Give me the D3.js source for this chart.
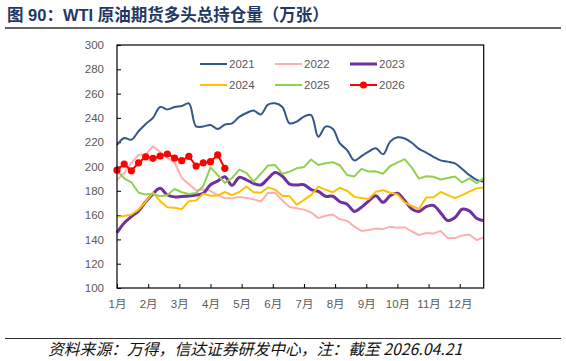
<!DOCTYPE html>
<html>
<head>
<meta charset="utf-8">
<script src="https://cdn.jsdelivr.net/npm/d3@7"></script>
<style>
  body { margin: 0; background: #fff; }
  svg { display: block; }
</style>
</head>
<body>
<div id="chart"></div>
<script>
const months = ["1月", "2月", "3月", "4月", "5月", "6月", "7月", "8月", "9月", "10月", "11月", "12月"];
const yTicks = [100, 120, 140, 160, 180, 200, 220, 240, 260, 280, 300];
const years = ["2021", "2022", "2023", "2024", "2025", "2026"];

// weekly values, week 0..51
const s2021 = [217.7, 223.5, 222, 229, 235, 240, 249, 247, 249, 249.8, 252, 233, 233, 234.2, 230.8, 234.5,
  235.5, 240.8, 244, 246, 242.8, 251, 252, 249, 235.5, 237, 241, 242.3, 224.5, 232.8, 231, 219,
  213.5, 205, 208.5, 212.3, 215, 210, 220.5, 224, 223, 219.5, 214.5, 211.5, 208, 205, 204, 202.5,
  198, 193, 189, 187.5];
const s2022 = [189, 194.5, 203, 209.5, 210, 216.5, 212, 207, 203.5, 190.5, 185.5, 180.5, 181, 180, 176.5, 173.8,
  173.8, 175, 174, 173, 171.2, 178.2, 178.4, 172, 166.7, 165.6, 164.5, 162.2, 157.5, 159.5, 160.5, 156.5,
  155.3, 150.5, 147, 147.8, 149, 148.5, 150.5, 149.6, 150, 146.5, 143.5, 145.3, 144.8, 147, 141.1, 141.1,
  143.3, 144, 139.5, 141.7];
const s2023 = [145.5, 153.5, 158.8, 163.5, 171, 177.5, 182, 176.5, 175, 175.3, 175.8, 176.6, 178, 185, 188, 191.5,
  184.5, 191, 189, 186, 184.8, 190, 195, 192, 185.5, 184.8, 185, 181, 179.5, 175.5, 175.5, 171,
  169, 163, 166.5, 171.5, 176, 170.5, 176, 178, 172, 165, 163, 167, 168, 162, 155.5, 158,
  164.8, 163.5, 157.5, 155.3];
const s2024 = [158.7, 159.3, 160.5, 164.5, 171, 178.5, 171.5, 166.4, 166, 164.8, 171.5, 172, 177.5, 176, 176.1, 179,
  176.5, 179, 183.5, 178.8, 178.4, 182.8, 181, 175.7, 175.7, 168.5, 172.5, 176.5, 183.4, 181, 178.8, 182.5,
  180, 175, 174, 173.2, 179.3, 180.5, 178.4, 177, 170.5, 167.5, 165, 174.5, 174.6, 179, 176.5, 174,
  176.5, 179.3, 182, 182.8];
const s2025 = [196.5, 190.3, 187, 178.4, 177, 177.5, 175.5, 176.5, 181.5, 178.8, 177.3, 178.2, 184, 199.3, 193, 186.5,
  190.5, 197.5, 194.8, 187.5, 194, 200.8, 201.2, 194, 195.8, 198.5, 199.5, 205.8, 201.2, 202.6, 203.5, 201,
  193, 191.8, 198, 195.8, 196, 194, 200.4, 203.2, 206, 199, 190, 192, 191.6, 189.3, 190.5, 191.8,
  186.9, 190.3, 186.2, 190.3];
const s2026 = [197, 202, 196.5, 203, 208, 206.7, 208.6, 210.3, 207, 204.8, 208.3, 200.4, 203, 204, 209.5, 198.5];

const series = [
  { name: years[0], values: s2021, color: "#34568b", width: 2, smooth: true },
  { name: years[1], values: s2022, color: "#ffafaf", width: 2, smooth: false },
  { name: years[2], values: s2023, color: "#7030a0", width: 3, smooth: true },
  { name: years[3], values: s2024, color: "#ffc000", width: 2, smooth: false },
  { name: years[4], values: s2025, color: "#92d050", width: 2, smooth: false },
  { name: years[5], values: s2026, color: "#ff0000", width: 2, smooth: false, dots: true }
];

const width = 566;
const height = 361;
const plotL = 117, plotR = 483.7, plotT = 45, plotB = 288;

const svg = d3.select("#chart")
  .append("svg")
  .attr("width", width)
  .attr("height", height);

svg.append("rect").attr("width", width).attr("height", height).attr("fill", "#fff");

// title
svg.append("text")
  .attr("x", 7)
  .attr("y", 21)
  .attr("fill", "#1f3864")
  .attr("font-family", "'Liberation Sans', 'Noto Sans CJK SC', sans-serif")
  .attr("font-weight", "bold")
  .attr("font-size", 16.5)
  .text("图 90：WTI 原油期货多头总持仓量（万张）");

svg.append("line")
  .attr("x1", 5).attr("x2", 561)
  .attr("y1", 28).attr("y2", 28)
  .attr("stroke", "#333").attr("stroke-width", 1.5);

const x = d3.scaleLinear().domain([0, 51]).range([plotL, plotR]);
const y = d3.scaleLinear().domain([100, 300]).range([plotB, plotT]);

const labelFont = "'Liberation Sans', 'Noto Sans CJK SC', sans-serif";

// y axis
const yAxis = svg.append("g")
  .attr("transform", `translate(${plotL},0)`)
  .call(d3.axisLeft(y).tickValues(yTicks).tickSize(-4).tickPadding(13));
yAxis.select(".domain").remove();
yAxis.selectAll("line").attr("stroke", "#000");
yAxis.selectAll("text")
  .attr("fill", "#595959")
  .attr("font-family", labelFont)
  .attr("font-size", 11.5);

// x axis (month ticks)
const monthPos = months.map((m, i) => i * 52 / 12);
const xAxis = svg.append("g")
  .attr("transform", `translate(0,${plotB})`)
  .call(d3.axisBottom(x).tickValues(monthPos).tickFormat((d, i) => months[i]).tickSize(-4).tickPadding(12));
xAxis.select(".domain").remove();
xAxis.selectAll("line").attr("stroke", "#000");
xAxis.selectAll("text")
  .attr("fill", "#595959")
  .attr("font-family", labelFont)
  .attr("font-size", 11.5);

// lines
series.forEach(s => {
  const line = d3.line()
    .x((d, i) => x(i))
    .y(d => y(d))
    .curve(s.smooth ? d3.curveCatmullRom : d3.curveLinear);

  svg.append("path")
    .datum(s.values)
    .attr("d", line)
    .attr("fill", "none")
    .attr("stroke", s.color)
    .attr("stroke-width", s.width)
    .attr("stroke-linejoin", "round");

  if (s.dots) {
    svg.selectAll(".dot")
      .data(s.values)
      .join("circle")
      .attr("class", "dot")
      .attr("cx", (d, i) => x(i))
      .attr("cy", d => y(d))
      .attr("r", 3.6)
      .attr("fill", s.color);
  }
});

// frame
svg.append("rect")
  .attr("x", plotL).attr("y", plotT)
  .attr("width", plotR - plotL).attr("height", plotB - plotT)
  .attr("fill", "none")
  .attr("stroke", "#000")
  .attr("stroke-width", 1.2);

// legend
const legCols = [200, 275, 350];
const legRows = [64, 85];
series.forEach((s, i) => {
  const lx = legCols[i % 3];
  const ly = legRows[Math.floor(i / 3)];
  const g = svg.append("g");
  g.append("line")
    .attr("x1", lx).attr("x2", lx + 27)
    .attr("y1", ly).attr("y2", ly)
    .attr("stroke", s.color)
    .attr("stroke-width", s.width);
  if (s.dots) {
    g.append("circle").attr("cx", lx + 13.5).attr("cy", ly).attr("r", 3.6).attr("fill", s.color);
  }
  g.append("text")
    .attr("x", lx + 29)
    .attr("y", ly)
    .attr("dy", "0.35em")
    .attr("fill", "#595959")
    .attr("font-family", labelFont)
    .attr("font-size", 11.5)
    .text(s.name);
});

// source line
svg.append("line")
  .attr("x1", 5).attr("x2", 561)
  .attr("y1", 338.5).attr("y2", 338.5)
  .attr("stroke", "#333").attr("stroke-width", 1.2);

svg.append("text")
  .attr("x", 48)
  .attr("y", 355)
  .attr("fill", "#111")
  .attr("font-family", "'Noto Sans CJK SC', sans-serif")
  .attr("font-style", "italic")
  .attr("font-size", 15.8)
  .text("资料来源：万得，信达证券研发中心，注：截至 2026.04.21");
</script>
</body>
</html>
